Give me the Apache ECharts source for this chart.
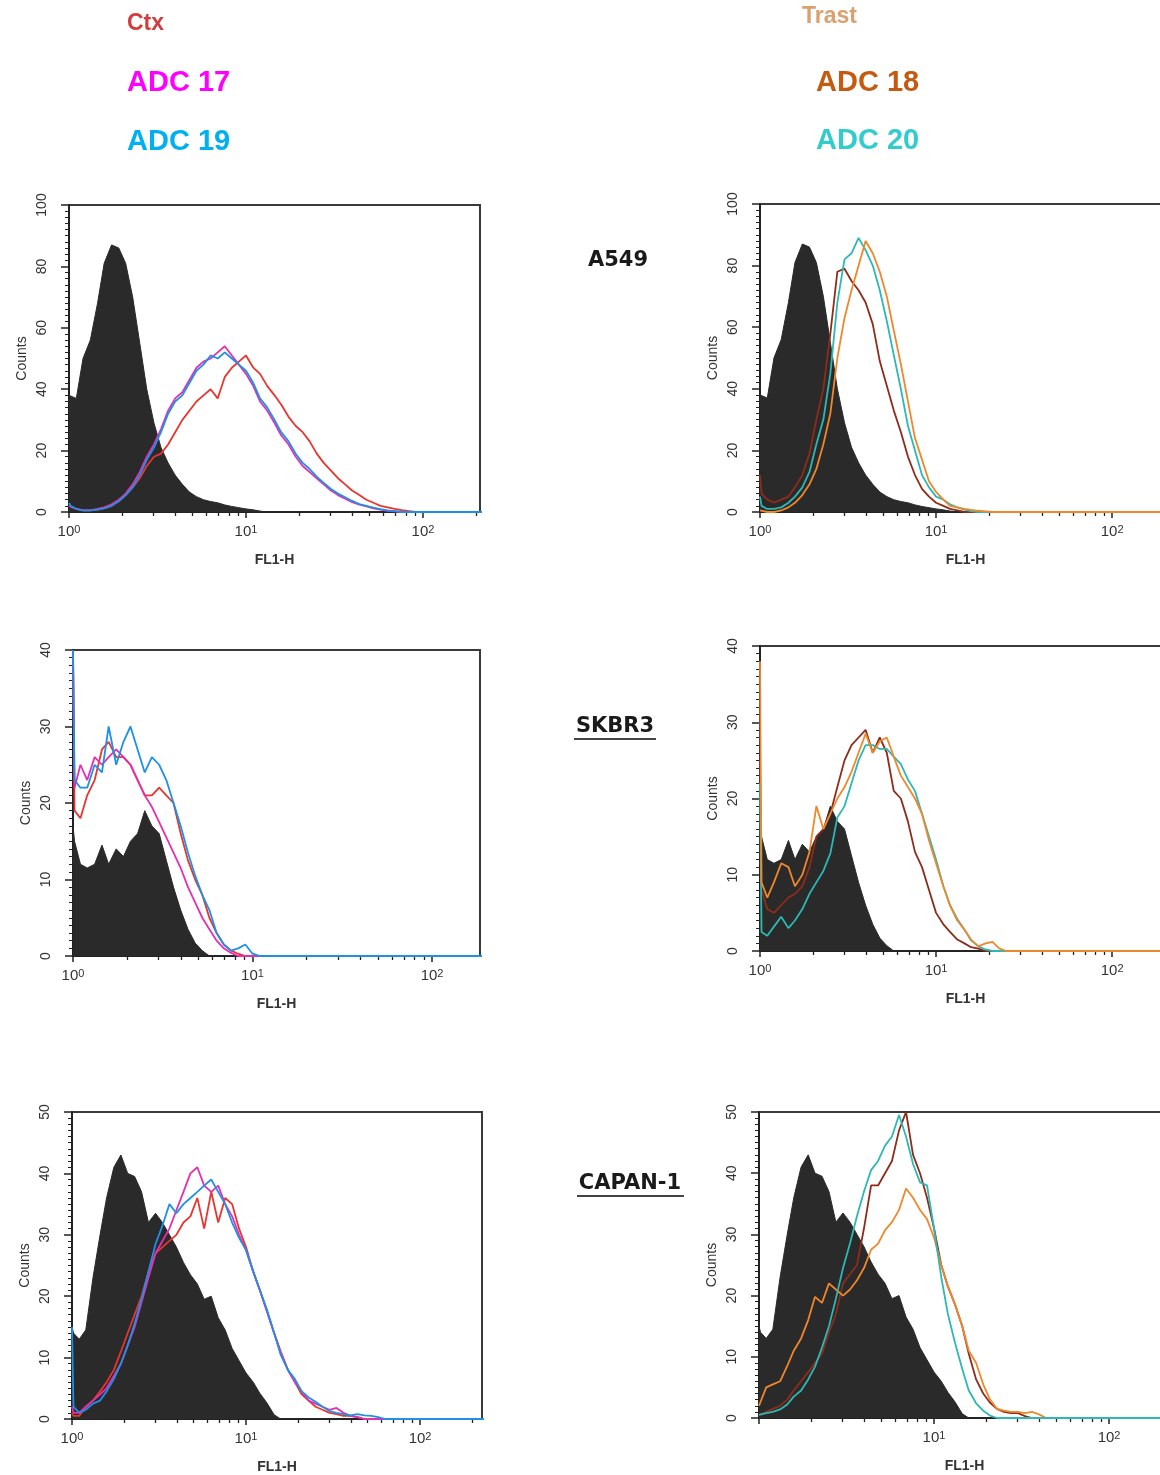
<!DOCTYPE html>
<html>
<head>
<meta charset="utf-8">
<script src="https://cdn.jsdelivr.net/npm/echarts@6/dist/echarts.min.js"></script>
<style>
  html, body { margin: 0; padding: 0; background: #fff; }
  #chart { width: 1160px; height: 1475px; }
</style>
</head>
<body>
<div id="chart"></div>
<script>
// FL1-H channel positions (log scale); first entry is the edge channel, last is the top of the range
const fl1 = [1.00, 1.02, 1.10, 1.20, 1.32, 1.45, 1.58, 1.74, 1.91, 2.09, 2.29, 2.51, 2.75, 3.02, 3.31,
  3.63, 3.98, 4.37, 4.79, 5.25, 5.75, 6.31, 6.92, 7.59, 8.32, 9.12, 10.0, 11.0, 12.0, 13.2, 14.5, 15.8,
  17.4, 19.1, 20.9, 22.9, 25.1, 27.5, 30.2, 33.1, 36.3, 39.8, 43.7, 47.9, 52.5, 57.5, 63.1, 69.2, 75.9,
  83.2, 91.2, 100, 250];

const xMajorTicks = [1, 10, 100];
const xMajorExp = ["0", "1", "2"];
const xMinorTicks = [2, 3, 4, 5, 6, 7, 8, 9, 20, 30, 40, 50, 60, 70, 80, 90, 200];

// A549
const a549Ctrl = [38, 38, 37, 50, 56, 68, 81, 87, 86, 81, 70, 55, 40, 29, 21, 16, 12, 9, 6.5, 5, 4, 3.4, 3, 2.3, 1.8, 1.4, 1, 0.7, 0.3];
const a549Ctx = [2, 1.5, 1, 0.5, 0.5, 0.8, 1.2, 2, 3.5, 5.5, 8, 11, 15, 18, 19, 22, 26, 30, 33, 36, 38, 40, 37, 44, 47, 49, 51, 47, 45, 41, 38, 35, 31, 28, 26, 23, 19, 16, 13.5, 11, 9, 7, 5.5, 4, 3, 2, 1.5, 1, 0.6, 0.3];
const a549Adc17 = [2, 1.5, 1, 0.5, 0.5, 1, 1.5, 2.5, 4, 6, 9, 13, 18, 22, 27, 33, 37, 39, 43, 47, 49, 50, 52, 54, 51, 48, 45, 41, 36, 33, 29, 25, 22, 18, 15, 13, 11, 9, 7, 5.5, 4.3, 3.2, 2.4, 1.8, 1.2, 0.8, 0.4, 0.2];
const a549Adc19 = [3, 2, 1, 0.5, 0.5, 0.8, 1.2, 2, 3.5, 5.5, 8, 12, 17, 21, 26, 32, 36, 38, 42, 46, 48, 51, 50, 52, 50, 48, 46, 42, 37, 34, 30, 26, 23, 19, 16, 14, 11.5, 9.5, 7.5, 6, 4.8, 3.6, 2.6, 2, 1.4, 0.9, 0.5, 0.3];
const a549Trast = [12, 6, 4, 3, 4, 5, 8, 12, 19, 30, 40, 58, 78, 79, 75, 72, 68, 61, 49, 41, 33, 26, 18, 12, 7.5, 5, 3, 2, 1, 0.5];
const a549Adc18 = [0.5, 0.5, 0, 0, 0.5, 1.5, 3, 5.5, 9, 14, 22, 32, 50, 63, 72, 80, 88, 84, 78, 70, 59, 48, 36, 24, 17, 10, 6.5, 4, 2, 1.5, 1, 0.7, 0.4, 0.2];
const a549Adc20 = [5, 2, 1, 1, 1.5, 3, 5, 8, 13, 22, 30, 45, 68, 82, 84, 89, 85, 80, 72, 62, 51, 40, 28, 20, 12, 8, 5, 4, 2.5, 1.5, 0.8, 0.3];

// SKBR3
const skbr3Ctrl = [17, 15, 12, 11.5, 12, 14.5, 12, 14, 13, 15, 16, 19, 17, 16, 12.5, 9, 6, 3.5, 1.7, 0.7];
const skbr3Ctx = [40, 19, 18, 21, 23, 27, 28, 26, 26, 25, 23, 21, 21, 22, 21, 20, 16, 12.5, 10, 8, 5, 3, 1.5, 0.7, 0.3];
const skbr3Adc17 = [40, 22, 25, 23, 26, 25, 26, 27, 26, 25, 23, 21, 19.5, 17.5, 15.5, 13.5, 11.5, 9, 7, 5, 3.5, 2, 1, 0.4];
const skbr3Adc19 = [40, 23, 22, 22, 25, 24, 30, 25, 28, 30, 27, 24, 26, 25, 23, 20, 17, 13.5, 10.5, 8, 6, 3, 1.5, 0.7, 1, 1.5, 0.3];
const skbr3Trast = [25, 8, 5.5, 5, 6, 7, 7.5, 8.5, 11, 15, 16, 18, 21.5, 25, 27, 28, 29, 26, 28, 26, 21, 20, 17, 13, 11, 8, 5, 3.5, 2.5, 1.5, 1, 0.5, 0.3];
const skbr3Adc18 = [38, 9, 7, 9, 11.5, 11, 8.5, 10, 13, 19, 16, 18, 20, 21.5, 23.5, 26, 28.5, 26, 27.5, 28, 25.5, 23, 21.5, 20, 18, 14.5, 11.5, 8.5, 6, 4, 2.8, 1.5, 0.6, 1, 1.2, 0.3];
const skbr3Adc20 = [22, 2.5, 2, 3.2, 4.5, 3, 4, 5.5, 7.5, 9, 10.5, 12.8, 17.5, 19, 22, 25, 27, 27, 26.5, 26.5, 25.5, 24.5, 22.5, 21, 18, 15, 12, 8.5, 6, 4.2, 2.8, 1.4, 0.6, 0.2];

// CAPAN-1
const capanCtrl = [15, 14, 13, 14.5, 23, 30, 36, 41, 43, 40, 39.5, 37, 32, 33.5, 32, 30, 28, 25.5, 23.5, 22, 19.5, 20, 16.5, 14.5, 11.5, 9.5, 7.5, 6, 4.2, 2.6, 0.7];
const capanCtx = [1, 0.5, 0.5, 2, 3, 4.5, 6, 8, 11, 14, 17, 20, 24, 27, 28, 29, 30, 32, 33, 36, 31, 37, 32, 36, 35, 31, 28, 24, 21, 17.5, 14, 11, 8, 6, 4, 3, 2, 1.5, 1, 0.8, 0.5, 0.5, 0.3];
const capanAdc17 = [2, 1, 1, 2, 3, 4, 5, 7, 9, 12, 15, 19, 23, 27, 29, 31, 34, 37, 40, 41, 38, 37, 38, 35, 33, 30, 27.5, 24, 21, 17.5, 14, 11, 8, 6, 4.5, 3, 2.5, 2, 1.5, 1.8, 1, 0.5, 0.3];
const capanAdc19 = [15, 2, 1, 1.5, 2.5, 3, 4.5, 6.5, 9, 12, 15.5, 19.5, 24, 28.5, 31.5, 35, 33.5, 35, 36, 37, 38, 39, 37, 35, 32, 29.5, 27.5, 24, 21, 17.8, 14, 10.5, 8, 6.5, 4.5, 3.5, 2.8, 2, 1.3, 1, 0.8, 0.6, 0.8, 0.6, 0.5, 0.3];
const capanTrast = [0.5, 0.5, 1, 1.5, 2, 3, 4.5, 6, 7.5, 9, 10.5, 14, 17, 22, 23.5, 25, 31, 38, 38, 40, 42, 47, 50, 43, 40, 36, 31, 25, 21.5, 18.5, 15, 10.5, 6.3, 4, 2.5, 1.5, 1, 0.8, 0.8, 0.3];
const capanAdc18 = [2, 2.2, 5, 5.5, 6, 8.5, 11, 13, 16, 19.8, 18.8, 22, 21, 20, 21, 22.5, 24.5, 27.5, 28.5, 30.7, 32, 34, 37.5, 36, 34, 32.5, 29.5, 25, 21.5, 18.5, 15, 11, 9, 5.5, 3, 1.5, 1.2, 1, 1, 0.8, 1, 0.6];
const capanAdc20 = [0.5, 0.5, 0.8, 1, 1.4, 2.2, 3.5, 4.5, 6.3, 8.4, 11.5, 15, 19.5, 24.5, 28.5, 33, 37, 40.5, 42, 44.5, 46, 49.5, 46, 41.5, 38.5, 38, 31, 23, 17, 12.2, 8, 4.5, 2.4, 1.2, 0.4];

// colours
const ctrlColor = "#2a2a2a";
const ctxColor = "#e8352e";
const adc17Color = "#e62fb0";
const adc19Color = "#1e90e8";
const trastColor = "#8e2c1c";
const adc18Color = "#f0872a";
const adc20Color = "#2cb8b4";

// counts padded with zero up to the top channel
const hist = (counts) => fl1.map((x, i) => [x, counts[i] || 0]);

const panels = [
  { box: { left: 69, top: 205, width: 411, height: 307 }, xMax: 210, yMax: 100, yStep: 20, xLabels: xMajorTicks,
    ctrl: a549Ctrl, lines: [[a549Ctx, ctxColor], [a549Adc17, adc17Color], [a549Adc19, adc19Color]] },
  { box: { left: 760, top: 204, width: 411, height: 308 }, xMax: 216, yMax: 100, yStep: 20, xLabels: xMajorTicks,
    ctrl: a549Ctrl, lines: [[a549Trast, trastColor], [a549Adc20, adc20Color], [a549Adc18, adc18Color]] },
  { box: { left: 73, top: 650, width: 407, height: 306 }, xMax: 185, yMax: 40, yStep: 10, xLabels: xMajorTicks,
    ctrl: skbr3Ctrl, lines: [[skbr3Ctx, ctxColor], [skbr3Adc17, adc17Color], [skbr3Adc19, adc19Color]] },
  { box: { left: 760, top: 646, width: 411, height: 305 }, xMax: 216, yMax: 40, yStep: 10, xLabels: xMajorTicks,
    ctrl: skbr3Ctrl, lines: [[skbr3Trast, trastColor], [skbr3Adc20, adc20Color], [skbr3Adc18, adc18Color]] },
  { box: { left: 72, top: 1112, width: 410, height: 307 }, xMax: 227, yMax: 50, yStep: 10, xLabels: xMajorTicks,
    ctrl: capanCtrl, lines: [[capanCtx, ctxColor], [capanAdc17, adc17Color], [capanAdc19, adc19Color]] },
  { box: { left: 759, top: 1112, width: 411, height: 306 }, xMax: 223, yMax: 50, yStep: 10, xLabels: [10, 100],
    ctrl: capanCtrl, lines: [[capanTrast, trastColor], [capanAdc18, adc18Color], [capanAdc20, adc20Color]] },
];

const axisColor = "#222";
const labelFont = { fontFamily: "Liberation Sans", color: "#333" };

const option = {
  animation: false,
  backgroundColor: "#fff",
  grid: [],
  xAxis: [],
  yAxis: [],
  series: [],
  graphic: [],
};

panels.forEach((p, i) => {
  option.grid.push(Object.assign({
    show: true, borderColor: "#3a3a3a", borderWidth: 2, backgroundColor: "transparent",
    containLabel: false, outerBoundsMode: "none",
  }, p.box));

  // major log ticks with labels (10 with superscript exponent)
  option.xAxis.push({
    type: "log", logBase: 10, gridIndex: i, position: "bottom", min: 1, max: p.xMax,
    name: "FL1-H", nameLocation: "middle", nameGap: 41,
    nameTextStyle: { fontFamily: "Liberation Sans", fontWeight: "bold", fontSize: 14, color: "#333" },
    axisLine: { show: true, lineStyle: { color: axisColor, width: 2 } },
    axisTick: { show: true, inside: false, length: 6, customValues: xMajorTicks, lineStyle: { color: axisColor, width: 1.5 } },
    axisLabel: Object.assign({
      show: true, customValues: p.xLabels, fontSize: 15, margin: 12,
      formatter: (v) => "{b|10}{s|" + xMajorExp[xMajorTicks.indexOf(v)] + "}",
      rich: {
        b: { fontSize: 15, fontFamily: "Liberation Sans", color: "#333", verticalAlign: "bottom" },
        s: { fontSize: 11, fontFamily: "Liberation Sans", color: "#333", verticalAlign: "top" },
      },
    }, labelFont),
    splitLine: { show: false },
    minorTick: { show: false },
  });
  // minor log ticks (2..9 of each decade)
  option.xAxis.push({
    type: "log", logBase: 10, gridIndex: i, position: "bottom", min: 1, max: p.xMax,
    axisLine: { show: false },
    axisTick: { show: true, inside: false, length: 4, customValues: xMinorTicks, lineStyle: { color: axisColor, width: 1.3 } },
    axisLabel: { show: false },
    splitLine: { show: false },
  });

  option.yAxis.push({
    type: "value", gridIndex: i, min: 0, max: p.yMax, interval: p.yStep,
    name: "Counts", nameLocation: "middle", nameRotate: 90, nameGap: 40,
    nameTextStyle: { fontFamily: "Liberation Sans", fontSize: 14, color: "#333" },
    axisLine: { show: true, lineStyle: { color: axisColor, width: 2 } },
    axisTick: { show: true, inside: false, length: 8, lineStyle: { color: axisColor, width: 1.5 } },
    minorTick: { show: true, splitNumber: 10, length: 4, lineStyle: { color: axisColor, width: 1 } },
    axisLabel: Object.assign({ rotate: 90, fontSize: 14, margin: 20 }, labelFont),
    splitLine: { show: false },
    minorSplitLine: { show: false },
  });

  // filled control histogram
  option.series.push({
    type: "line", xAxisIndex: 2 * i, yAxisIndex: i, data: hist(p.ctrl),
    symbol: "none", color: ctrlColor,
    lineStyle: { width: 1, color: ctrlColor },
    areaStyle: { color: ctrlColor, opacity: 1 },
    z: 2, silent: true,
  });
  // overlaid antibody histograms
  p.lines.forEach(([vals, color]) => {
    option.series.push({
      type: "line", xAxisIndex: 2 * i, yAxisIndex: i, data: hist(vals),
      symbol: "none", color: color,
      lineStyle: { width: 1.8, color: color },
      z: 3, silent: true,
    });
  });
});

// legend words and cell line names
const txt = (text, x, y, font, fill, align) => ({
  type: "text", x: x, y: y, silent: true,
  style: { text: text, font: font, fill: fill, align: align, textAlign: align, verticalAlign: "middle", textVerticalAlign: "middle" },
});
const legendFont = 'bold 29px "Liberation Sans"';
const smallLegendFont = 'bold 23px "Liberation Sans"';
const cellFont = 'bold 21px "DejaVu Sans"';

option.graphic.push(
  txt("Ctx", 127, 24, smallLegendFont, "#d23c3c", "left"),
  txt("ADC 17", 127, 83, legendFont, "#ff00ff", "left"),
  txt("ADC 19", 127, 142, legendFont, "#00b0f0", "left"),
  txt("Trast", 802, 17, smallLegendFont, "#dba06e", "left"),
  txt("ADC 18", 816, 83, legendFont, "#c55a11", "left"),
  txt("ADC 20", 816, 141, legendFont, "#33cccc", "left"),
  txt("A549", 618, 261, cellFont, "#1a1a1a", "center"),
  txt("SKBR3", 615, 727, cellFont, "#1a1a1a", "center"),
  txt("CAPAN-1", 630, 1184, cellFont, "#1a1a1a", "center"),
  { type: "line", silent: true, shape: { x1: 574, y1: 739, x2: 656, y2: 739 }, style: { stroke: "#444", lineWidth: 2 } },
  { type: "line", silent: true, shape: { x1: 577, y1: 1196, x2: 684, y2: 1196 }, style: { stroke: "#444", lineWidth: 2 } }
);

const chart = echarts.init(document.getElementById("chart"), null, { renderer: "canvas" });
chart.setOption(option);
window.addEventListener("resize", () => chart.resize());
</script>
</body>
</html>
